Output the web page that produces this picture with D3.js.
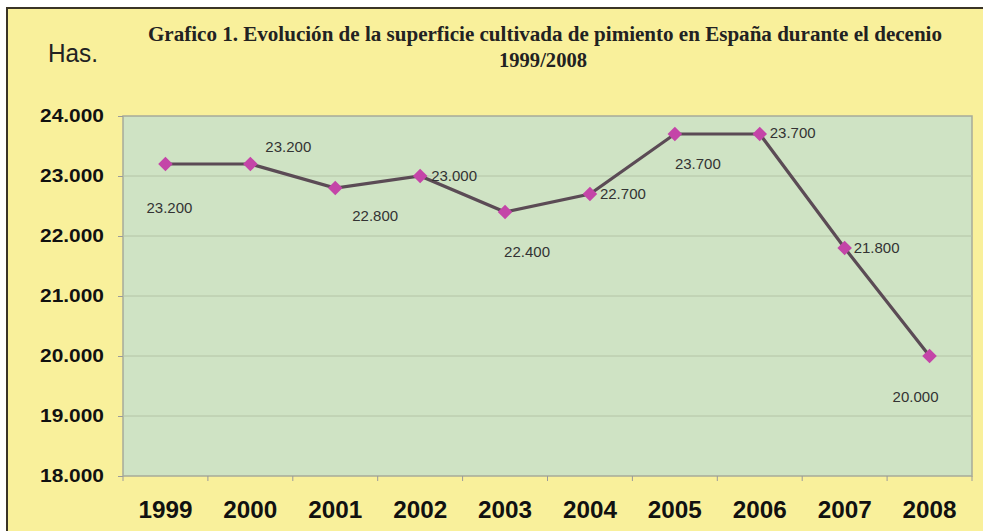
<!DOCTYPE html>
<html>
<head>
<meta charset="utf-8">
<script src="https://cdn.jsdelivr.net/npm/d3@7"></script>
<style>
  body { margin: 0; background: #fff; }
  svg { display: block; }
  .y-axis text { font-family: "Liberation Sans", Arial, sans-serif; font-weight: bold; font-size: 18px; fill: #111; }
  .x-axis text { font-family: "Liberation Sans", Arial, sans-serif; font-weight: bold; font-size: 24px; fill: #111; }
  .axis path, .axis line { stroke: #9a9a9a; }
  .grid line { stroke: #b4c4a6; stroke-width: 1; }
  .value-label { font-family: "Liberation Sans", Arial, sans-serif; font-size: 15px; fill: #333; }
</style>
</head>
<body>
<div id="chart"></div>
<script>
const years = ['1999', '2000', '2001', '2002', '2003', '2004', '2005', '2006', '2007', '2008'];
const hectares = [23200, 23200, 22800, 23000, 22400, 22700, 23700, 23700, 21800, 20000];
const yTicks = [18000, 19000, 20000, 21000, 22000, 23000, 24000];
// value label offset from its point: [dx, dy, anchor]
const labelOffsets = [
    [4, 49, 'middle'], [15, -12, 'start'], [17, 33, 'start'], [11, 5, 'start'], [22, 45, 'middle'],
    [10, 5, 'start'], [23, 35, 'middle'], [10, 4, 'start'], [9, 5, 'start'], [-14, 46, 'middle'],
];

const width = 983, height = 531;
const margin = { left: 123, top: 116, right: 11, bottom: 55 };
const innerW = width - margin.left - margin.right;
const innerH = height - margin.top - margin.bottom;

const fmt = d3.format(',.0f');
const esNum = (v) => fmt(v).replace(/,/g, '.');

const svg = d3.select('#chart').append('svg')
    .attr('width', width)
    .attr('height', height);

// outer panel
svg.append('rect')
    .attr('x', 7).attr('y', 8)
    .attr('width', width + 10).attr('height', height + 10)
    .attr('fill', '#f9f09b')
    .attr('stroke', '#3a3426')
    .attr('stroke-width', 2);

svg.append('text')
    .attr('x', 545).attr('y', 41)
    .attr('text-anchor', 'middle')
    .attr('font-family', '"Liberation Serif", "Times New Roman", serif')
    .attr('font-weight', 'bold')
    .attr('font-size', 20)
    .attr('fill', '#222')
    .attr('textLength', 794)
    .attr('lengthAdjust', 'spacingAndGlyphs')
    .text('Grafico 1. Evolución de la superficie cultivada de pimiento en España durante el decenio');

svg.append('text')
    .attr('x', 543).attr('y', 67)
    .attr('text-anchor', 'middle')
    .attr('font-family', '"Liberation Serif", "Times New Roman", serif')
    .attr('font-weight', 'bold')
    .attr('font-size', 21)
    .attr('fill', '#222')
    .attr('textLength', 88)
    .attr('lengthAdjust', 'spacingAndGlyphs')
    .text('1999/2008');

svg.append('text')
    .attr('x', 48).attr('y', 62)
    .attr('font-family', '"Liberation Sans", Arial, sans-serif')
    .attr('font-size', 26)
    .attr('fill', '#222')
    .attr('textLength', 50)
    .attr('lengthAdjust', 'spacingAndGlyphs')
    .text('Has.');

const x = d3.scaleBand().domain(years).range([0, innerW]);
const y = d3.scaleLinear().domain([18000, 24000]).range([innerH, 0]);

const g = svg.append('g').attr('transform', `translate(${margin.left},${margin.top})`);

g.append('rect')
    .attr('width', innerW).attr('height', innerH)
    .attr('fill', '#cfe3c4')
    .attr('stroke', '#a7ab9a')
    .attr('stroke-width', 1.5);

g.append('g').attr('class', 'grid')
    .selectAll('line')
    .data(yTicks.slice(1, -1))
    .join('line')
    .attr('x1', 0).attr('x2', innerW)
    .attr('y1', (d) => y(d)).attr('y2', (d) => y(d));

g.append('g').attr('class', 'axis y-axis')
    .call(d3.axisLeft(y).tickValues(yTicks).tickFormat(esNum).tickSize(5).tickPadding(14))
    .call((a) => a.select('.domain').remove())
    .selectAll('text')
    .attr('textLength', 64)
    .attr('lengthAdjust', 'spacingAndGlyphs');

const xAxis = g.append('g').attr('class', 'axis x-axis')
    .attr('transform', `translate(0,${innerH})`)
    .call(d3.axisBottom(x).tickSize(0).tickPadding(25));
xAxis.select('.domain').remove();
xAxis.selectAll('text')
    .attr('textLength', 54)
    .attr('lengthAdjust', 'spacingAndGlyphs');
// tick marks sit between the categories
xAxis.selectAll('.boundary')
    .data(d3.range(years.length + 1))
    .join('line')
    .attr('stroke', '#9a9a9a')
    .attr('x1', (i) => i * x.step()).attr('x2', (i) => i * x.step())
    .attr('y1', 0).attr('y2', 5);

const cx = (d, i) => x(years[i]) + x.bandwidth() / 2;

g.append('path')
    .datum(hectares)
    .attr('fill', 'none')
    .attr('stroke', '#5b4b55')
    .attr('stroke-width', 3.2)
    .attr('d', d3.line().x((d, i) => cx(d, i)).y((d) => y(d)));

g.selectAll('.marker')
    .data(hectares)
    .join('path')
    .attr('class', 'marker')
    .attr('transform', (d, i) => `translate(${cx(d, i)},${y(d)})`)
    .attr('d', d3.symbol(d3.symbolDiamond2, 135))
    .attr('fill', '#c445a8');

g.selectAll('.value-label')
    .data(hectares)
    .join('text')
    .attr('class', 'value-label')
    .attr('x', (d, i) => cx(d, i) + labelOffsets[i][0])
    .attr('y', (d, i) => y(d) + labelOffsets[i][1])
    .attr('text-anchor', (d, i) => labelOffsets[i][2])
    .text((d) => esNum(d));
</script>
</body>
</html>
